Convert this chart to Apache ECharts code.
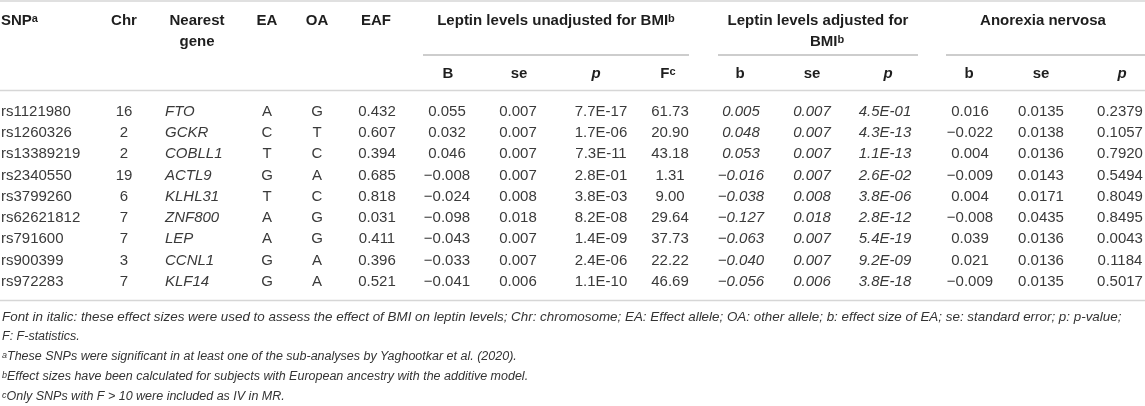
<!DOCTYPE html>
<html>
<head>
<meta charset="utf-8">
<script src="https://cdn.jsdelivr.net/npm/echarts@6/dist/echarts.min.js"></script>
<style>
  html, body { margin: 0; padding: 0; background: #fff; }
  #snp-table { width: 1145px; height: 406px; }
</style>
</head>
<body>
<div id="snp-table"></div>
<script>
// table rows
const snps = ['rs1121980', 'rs1260326', 'rs13389219', 'rs2340550', 'rs3799260', 'rs62621812', 'rs791600', 'rs900399', 'rs972283'];
const chr = [16, 2, 2, 19, 6, 7, 7, 3, 7];
const genes = ['FTO', 'GCKR', 'COBLL1', 'ACTL9', 'KLHL31', 'ZNF800', 'LEP', 'CCNL1', 'KLF14'];
const effectAllele = ['A', 'C', 'T', 'G', 'T', 'A', 'A', 'G', 'G'];
const otherAllele = ['G', 'T', 'C', 'A', 'C', 'G', 'G', 'A', 'A'];
const eaf = [0.432, 0.607, 0.394, 0.685, 0.818, 0.031, 0.411, 0.396, 0.521];

// leptin unadjusted for BMI
const unadjB = [0.055, 0.032, 0.046, -0.008, -0.024, -0.098, -0.043, -0.033, -0.041];
const unadjSe = [0.007, 0.007, 0.007, 0.007, 0.008, 0.018, 0.007, 0.007, 0.006];
const unadjP = [7.7e-17, 1.7e-6, 7.3e-11, 2.8e-1, 3.8e-3, 8.2e-8, 1.4e-9, 2.4e-6, 1.1e-10];
const unadjF = [61.73, 20.90, 43.18, 1.31, 9.00, 29.64, 37.73, 22.22, 46.69];

// leptin adjusted for BMI (italic)
const adjB = [0.005, 0.048, 0.053, -0.016, -0.038, -0.127, -0.063, -0.040, -0.056];
const adjSe = [0.007, 0.007, 0.007, 0.007, 0.008, 0.018, 0.007, 0.007, 0.006];
const adjP = [4.5e-1, 4.3e-13, 1.1e-13, 2.6e-2, 3.8e-6, 2.8e-12, 5.4e-19, 9.2e-9, 3.8e-18];

// anorexia nervosa
const anB = [0.016, -0.022, 0.004, -0.009, 0.004, -0.008, 0.039, 0.021, -0.009];
const anSe = [0.0135, 0.0138, 0.0136, 0.0143, 0.0171, 0.0435, 0.0136, 0.0136, 0.0135];
const anP = [0.2379, 0.1057, 0.7920, 0.5494, 0.8049, 0.8495, 0.0043, 0.1184, 0.5017];

const footnotes = [
    ['', 'Font in italic: these effect sizes were used to assess the effect of BMI on leptin levels; Chr: chromosome; EA: Effect allele; OA: other allele; b: effect size of EA; se: standard error; p: p-value;'],
    ['', 'F: F-statistics.'],
    ['a', 'These SNPs were significant in at least one of the sub-analyses by Yaghootkar et al. (2020).'],
    ['b', 'Effect sizes have been calculated for subjects with European ancestry with the additive model.'],
    ['c', 'Only SNPs with F > 10 were included as IV in MR.']
];

const FONT = '"Liberation Sans", Arial, sans-serif';
const TXT = '#3a3a3a';
const HEAD = '#1e1e1e';

function num(v, d) {
    return (v < 0 ? '\u2212' : '') + Math.abs(v).toFixed(d);
}
function sci(v) {
    const parts = v.toExponential(1).split('e');
    const e = parseInt(parts[1], 10);
    return parts[0] + 'E' + (e < 0 ? '-' : '+') + String(Math.abs(e)).padStart(2, '0');
}

// column anchors (x in px) and how each cell is written
const columns = [
    { x: 1, align: 'left', text: i => snps[i] },
    { x: 124, text: i => String(chr[i]) },
    { x: 165, align: 'left', italic: true, text: i => genes[i] },
    { x: 267, text: i => effectAllele[i] },
    { x: 317, text: i => otherAllele[i] },
    { x: 377, text: i => num(eaf[i], 3) },
    { x: 447, text: i => num(unadjB[i], 3) },
    { x: 518, text: i => num(unadjSe[i], 3) },
    { x: 601, text: i => sci(unadjP[i]) },
    { x: 670, text: i => num(unadjF[i], 2) },
    { x: 741, italic: true, text: i => num(adjB[i], 3) },
    { x: 812, italic: true, text: i => num(adjSe[i], 3) },
    { x: 885, italic: true, text: i => sci(adjP[i]) },
    { x: 970, text: i => num(anB[i], 3) },
    { x: 1041, text: i => num(anSe[i], 4) },
    { x: 1120, text: i => num(anP[i], 4) }
];

const cells = [];
columns.forEach((col, c) => {
    snps.forEach((s, r) => cells.push([col.x, r, c]));
});

function txt(x, y, text, opt) {
    opt = opt || {};
    const size = opt.size || 15;
    const weight = opt.bold === false ? 'normal' : 'bold';
    const style = {
        text: text,
        fill: opt.fill || HEAD,
        fontSize: size,
        fontWeight: weight,
        fontStyle: opt.italic ? 'italic' : 'normal',
        fontFamily: FONT,
        align: opt.align || 'center',
        textAlign: opt.align || 'center',
        verticalAlign: 'middle',
        textVerticalAlign: 'middle'
    };
    if (opt.rich) {
        style.rich = {
            m: { fontSize: size, fontWeight: weight, fontStyle: opt.italic ? 'italic' : 'normal', fontFamily: FONT, fill: opt.fill || HEAD },
            s: { fontSize: Math.round(size * 0.7), fontWeight: weight, fontStyle: opt.italic ? 'italic' : 'normal', fontFamily: FONT, fill: opt.fill || HEAD, verticalAlign: 'top' }
        };
    }
    return { type: 'text', x: x, y: y, style: style, silent: true };
}
function rule(x1, x2, y, color, w) {
    return { type: 'line', shape: { x1: x1, y1: y, x2: x2, y2: y }, style: { stroke: color, lineWidth: w }, silent: true };
}

const ROW1 = 21, ROW2 = 42, SUB = 74;
const graphics = [
    rule(0, 1145, 1, '#d6d6d6', 1.6),
    rule(0, 1145, 90.5, '#d6d6d6', 1.6),
    rule(0, 1145, 300.5, '#d6d6d6', 1.6),
    rule(423, 689, 55, '#9c9c9c', 1.2),
    rule(718, 918, 55, '#9c9c9c', 1.2),
    rule(946, 1145, 55, '#9c9c9c', 1.2),

    txt(1, ROW1, '{m|SNP}{s|a}', { align: 'left', rich: true }),
    txt(124, ROW1, 'Chr'),
    txt(197, ROW1, 'Nearest'),
    txt(197, ROW2, 'gene'),
    txt(267, ROW1, 'EA'),
    txt(317, ROW1, 'OA'),
    txt(376, ROW1, 'EAF'),
    txt(556, ROW1, '{m|Leptin levels unadjusted for BMI}{s|b}', { rich: true }),
    txt(818, ROW1, 'Leptin levels adjusted for'),
    txt(827, ROW2, '{m|BMI}{s|b}', { rich: true }),
    txt(1043, ROW1, 'Anorexia nervosa'),

    txt(448, SUB, 'B'),
    txt(519, SUB, 'se'),
    txt(596, SUB, 'p', { italic: true }),
    txt(668, SUB, '{m|F}{s|c}', { rich: true }),
    txt(740, SUB, 'b'),
    txt(812, SUB, 'se'),
    txt(888, SUB, 'p', { italic: true }),
    txt(969, SUB, 'b'),
    txt(1041, SUB, 'se'),
    txt(1122, SUB, 'p', { italic: true })
];

footnotes.forEach((f, i) => {
    const y = 317 + i * 20;
    const o = { align: 'left', bold: false, italic: true, size: i === 0 ? 13.4 : 12.5, fill: '#333', rich: true };
    graphics.push(txt(2, y, (f[0] ? '{s|' + f[0] + '}' : '') + '{m|' + f[1] + '}', o));
});

const chart = echarts.init(document.getElementById('snp-table'), null, { renderer: 'canvas' });
chart.setOption({
    animation: false,
    backgroundColor: '#fff',
    grid: { left: 0, right: 0, top: 101.2, height: 191.25 },
    xAxis: { type: 'value', min: 0, max: 1145, show: false },
    yAxis: { type: 'category', data: snps, inverse: true, show: false },
    series: [{
        type: 'custom',
        silent: true,
        encode: { x: 0, y: 1 },
        data: cells,
        renderItem: function (params, api) {
            const col = columns[api.value(2)];
            const r = api.value(1);
            const pt = api.coord([api.value(0), r]);
            return {
                type: 'text',
                x: pt[0],
                y: pt[1],
                style: {
                    text: col.text(r),
                    fill: TXT,
                    font: (col.italic ? 'italic ' : '') + '15px ' + FONT,
                    align: col.align || 'center',
                    verticalAlign: 'middle'
                }
            };
        }
    }],
    graphic: graphics
});
window.addEventListener('resize', () => chart.resize());
</script>
</body>
</html>
